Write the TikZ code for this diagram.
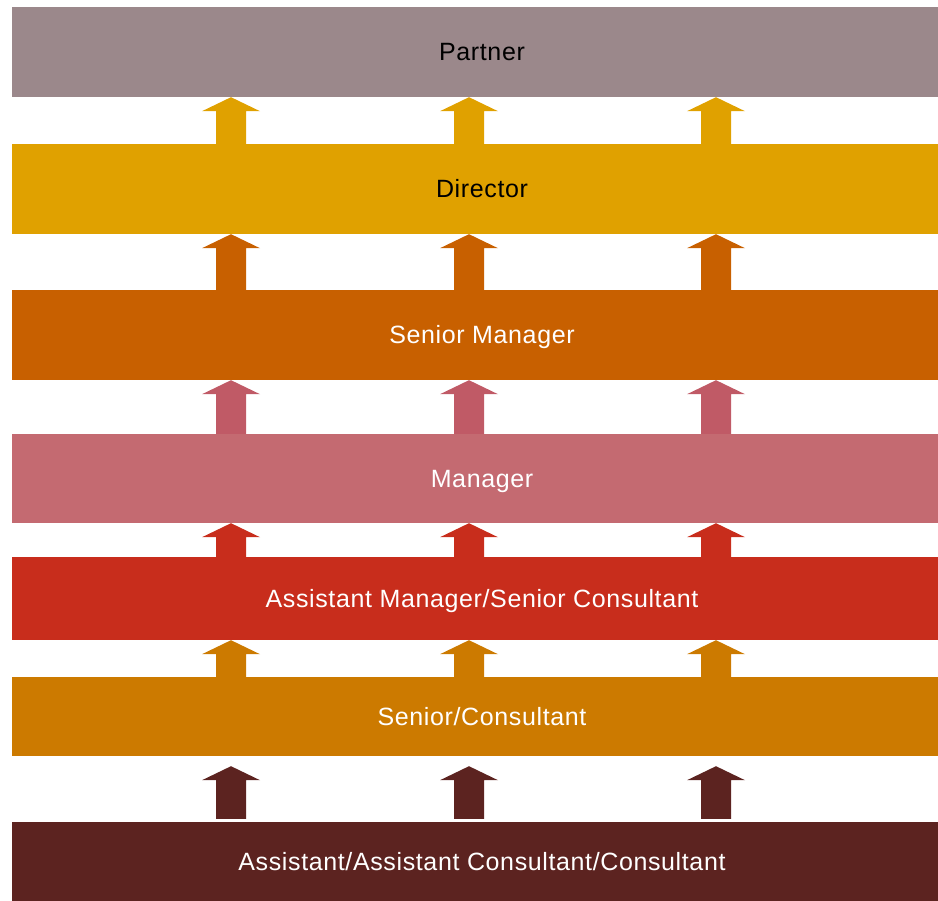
\documentclass[tikz,border=0pt]{standalone}
\usepackage{fontspec}
\setmainfont{Liberation Sans}[LetterSpace=2.5]
\usetikzlibrary{positioning}

\definecolor{partnercol}{HTML}{9B888B}
\definecolor{directorcol}{HTML}{E0A100}
\definecolor{seniormgrcol}{HTML}{C86000}
\definecolor{managercol}{HTML}{C46A71}
\definecolor{managerarr}{HTML}{C05A66}
\definecolor{asstmgrcol}{HTML}{C82D1C}
\definecolor{seniorcol}{HTML}{CC7A00}
\definecolor{assistantcol}{HTML}{5C2320}

\tikzset{
  bar/.style 2 args={fill=#1, minimum width=940pt, minimum height=#2pt,
    inner sep=0pt, text=white, text height=17.5pt, text depth=0pt,
    font=\fontsize{25}{28}\selectfont},
}

% three block arrows from one bar up to the next
\newcommand{\gradearrows}[5]{% colour, lower bar, upper bar, gap below, gap above
  \coordinate (lo) at ([yshift=#4pt]#2.north);
  \coordinate (up) at ([yshift=-#5pt]#3.south);
  \coordinate (hb) at ([yshift=-14pt]up);
  \foreach \c in {231,469,716}
    \fill[#1] (\c-15,0 |- lo) -- (\c-15,0 |- hb) -- (\c-29,0 |- hb)
      -- (\c,0 |- up) -- (\c+29,0 |- hb) -- (\c+15,0 |- hb)
      -- (\c+15,0 |- lo) -- cycle;
}

\begin{document}
\begin{tikzpicture}[x=1pt,y=-1pt]
  \useasboundingbox (0,0) rectangle (938,901);
  % grades, top to bottom
  \node[bar={partnercol}{90}, text=black] (partner) at (482,52) {Partner};
  \node[bar={directorcol}{90}, text=black] (director) at (482,189) {Director};
  \node[bar={seniormgrcol}{90}] (seniormgr) at (482,335) {Senior Manager};
  \node[bar={managercol}{89}] (manager) at (482,478.5) {Manager};
  \node[bar={asstmgrcol}{83}] (asstmgr) at (482,598.5) {Assistant Manager/Senior Consultant};
  \node[bar={seniorcol}{79}] (senior) at (482,716.5) {Senior/Consultant};
  \node[bar={assistantcol}{79}] (assistant) at (482,861.5) {Assistant/Assistant Consultant/Consultant};
  % promotions
  \gradearrows{directorcol}{director}{partner}{0}{0}
  \gradearrows{seniormgrcol}{seniormgr}{director}{0}{0}
  \gradearrows{managerarr}{manager}{seniormgr}{0}{0}
  \gradearrows{asstmgrcol}{asstmgr}{manager}{0}{0}
  \gradearrows{seniorcol}{senior}{asstmgr}{0}{0}
  \gradearrows{assistantcol}{assistant}{senior}{3}{10}
\end{tikzpicture}
\end{document}
